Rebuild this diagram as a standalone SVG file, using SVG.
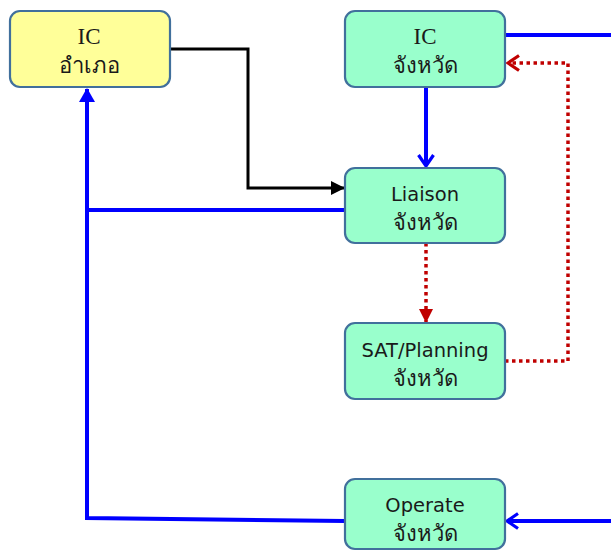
<svg xmlns="http://www.w3.org/2000/svg" width="611" height="551" viewBox="0 0 611 551">
<style>
.box{stroke:#41709c;stroke-width:2.2}
.y{fill:#ffff99}
.g{fill:#99ffcc}
text{font-family:Tahoma,"DejaVu Sans","Noto Sans",sans-serif;font-size:19.5px;fill:#1a1a1a;text-anchor:middle}
text.th{font-size:22px}
text.ic{font-family:"Liberation Serif","Times New Roman",serif;font-size:23px}
.blue{stroke:#0000ff;stroke-width:4;fill:none}
.blk{stroke:#000;stroke-width:3;fill:none}
.red{stroke:#c00000;stroke-width:3.5;fill:none;stroke-dasharray:3.5 3.5}
</style>
<defs>
<marker id="openBlueB" viewBox="0 0 16 18" refX="14" refY="9" markerWidth="16" markerHeight="18" markerUnits="userSpaceOnUse" orient="auto">
<path d="M3,1.5 L14,9 L3,16.5" fill="none" stroke="#0000ff" stroke-width="3.2"/>
</marker>
<marker id="fillBlue" viewBox="0 0 14 16" refX="13" refY="8" markerWidth="14" markerHeight="16" markerUnits="userSpaceOnUse" orient="auto">
<path d="M0,0 L14,8 L0,16 Z" fill="#0000ff"/>
</marker>
<marker id="fillBlk" viewBox="0 0 14 14" refX="13" refY="7" markerWidth="14" markerHeight="14" markerUnits="userSpaceOnUse" orient="auto">
<path d="M0,0 L14,7 L0,14 Z" fill="#000"/>
</marker>
<marker id="fillRed" viewBox="0 0 14 14" refX="13" refY="7" markerWidth="14" markerHeight="14" markerUnits="userSpaceOnUse" orient="auto">
<path d="M0,0 L14,7 L0,14 Z" fill="#c00000"/>
</marker>
<marker id="openRed" viewBox="0 0 16 18" refX="14" refY="9" markerWidth="16" markerHeight="18" markerUnits="userSpaceOnUse" orient="auto">
<path d="M3,1.5 L14,9 L3,16.5" fill="none" stroke="#c00000" stroke-width="3.2"/>
</marker>
</defs>
<g id="connectors">
<path class="blue" d="M505,35 H611"/>
<path class="red" d="M505,361 H568 V63 H508" marker-end="url(#openRed)"/>
<path class="blue" d="M426,87 V166" marker-end="url(#openBlueB)"/>
<path class="blk" d="M170,49 H248 V188 H344" marker-end="url(#fillBlk)"/>
<path class="blue" d="M345,210 H87"/>
<path class="blue" d="M345,521 L87,518 V89" marker-end="url(#fillBlue)"/>
<path class="blue" d="M611,521 H507" marker-end="url(#openBlueB)"/>
<path class="red" d="M426,243 V322" marker-end="url(#fillRed)"/>
</g>
<g id="ic-amphoe">
<rect class="box y" x="10" y="11" width="160" height="76" rx="10"/>
<text class="ic" x="89" y="44">IC</text>
<text class="th" x="89" y="73">อำเภอ</text>
</g>
<g id="ic-province">
<rect class="box g" x="345" y="11" width="160" height="76" rx="10"/>
<text class="ic" x="425" y="44">IC</text>
<text class="th" x="425" y="73">จังหวัด</text>
</g>
<g id="liaison">
<rect class="box g" x="345" y="168" width="160" height="75" rx="10"/>
<text x="425" y="201">Liaison</text>
<text class="th" x="425" y="230">จังหวัด</text>
</g>
<g id="sat">
<rect class="box g" x="345" y="323" width="160" height="76" rx="10"/>
<text x="425" y="357">SAT/Planning</text>
<text class="th" x="425" y="386">จังหวัด</text>
</g>
<g id="operate">
<rect class="box g" x="345" y="479" width="160" height="70" rx="10"/>
<text x="425" y="512">Operate</text>
<text class="th" x="425" y="541">จังหวัด</text>
</g>
</svg>
